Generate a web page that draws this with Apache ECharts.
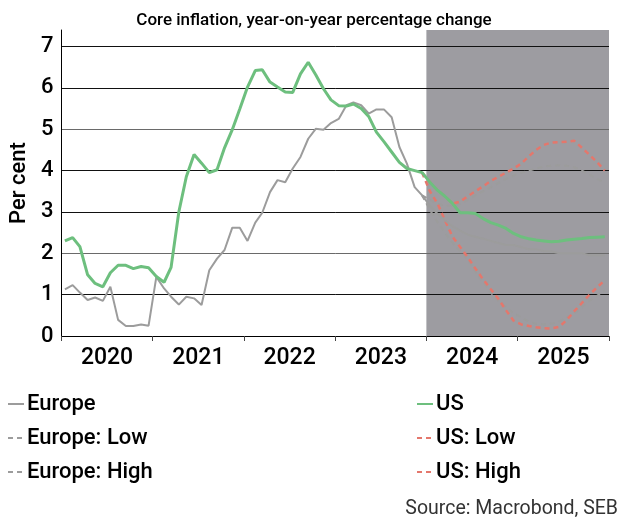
<!DOCTYPE html>
<html>
<head>
<meta charset="utf-8">
<script src="https://cdn.jsdelivr.net/npm/echarts@6/dist/echarts.min.js"></script>
<style>
  html, body { margin: 0; padding: 0; background: #fff; }
  #chart { width: 628px; height: 521px; }
</style>
</head>
<body>
<div id="chart"></div>
<script>
// Year bands on the time axis, y-axis ticks and the start of the forecast period
const years = ['2020', '2021', '2022', '2023', '2024', '2025'];
const yTicks = [0, 1, 2, 3, 4, 5, 6, 7];
const axisStart = '2020-01-01';
const forecastStart = '2024-01-01';
const axisEnd = '2026-01-01';

// Monthly observation dates, Jan 2020 - Dec 2025 (plotted mid-month)
const months = [];
years.forEach(y => {
  for (let m = 1; m <= 12; m++) months.push(y + '-' + String(m).padStart(2, '0') + '-15');
});

// Core inflation, % y/y — outcomes to Dec 2023, forecast from Jan 2024
const europe = [
  1.13, 1.23, 1.05, 0.87, 0.93, 0.85, 1.19, 0.39, 0.24, 0.24, 0.28, 0.25,
  1.43, 1.15, 0.95, 0.76, 0.95, 0.91, 0.75, 1.59, 1.87, 2.08, 2.62, 2.62,
  2.30, 2.74, 2.98, 3.48, 3.77, 3.72, 4.05, 4.33, 4.77, 5.01, 4.99, 5.15,
  5.25, 5.58, 5.65, 5.58, 5.38, 5.48, 5.48, 5.29, 4.57, 4.17, 3.60, 3.40,
  3.15, 2.95, 2.80, 2.65, 2.55, 2.45, 2.40, 2.35, 2.30, 2.25, 2.20, 2.20,
  2.15, 2.10, 2.10, 2.05, 2.05, 2.00, 2.00, 2.00, 2.00, 1.95, 1.95, 1.95
];
const us = [
  2.30, 2.38, 2.16, 1.48, 1.27, 1.19, 1.53, 1.71, 1.71, 1.63, 1.68, 1.65,
  1.44, 1.30, 1.66, 3.00, 3.85, 4.39, 4.18, 3.95, 4.02, 4.55, 4.99, 5.49,
  6.02, 6.42, 6.44, 6.14, 6.02, 5.90, 5.89, 6.34, 6.62, 6.32, 5.98, 5.71,
  5.57, 5.56, 5.61, 5.50, 5.31, 4.93, 4.70, 4.45, 4.20, 4.05, 4.00, 3.95,
  3.72, 3.52, 3.38, 3.20, 2.98, 2.98, 2.96, 2.84, 2.74, 2.68, 2.60, 2.48,
  2.40, 2.35, 2.32, 2.30, 2.28, 2.29, 2.32, 2.34, 2.36, 2.38, 2.39, 2.40
];

// Scenario bands start from the last outcome (Dec 2023)
const blank = Array(47).fill(null);
const europeLow = blank.concat([
  3.40,
  3.05, 2.75, 2.50, 2.25, 2.05, 1.85, 1.55, 1.30, 1.05, 0.85, 0.70, 0.55,
  0.45, 0.35, 0.30, 0.28, 0.30, 0.35, 0.45, 0.55, 0.70, 0.85, 0.98, 1.10
]);
const europeHigh = blank.concat([
  3.40,
  3.30, 3.20, 3.15, 3.15, 3.20, 3.30, 3.40, 3.50, 3.60, 3.70, 3.80, 3.88,
  3.95, 4.00, 4.05, 4.10, 4.12, 4.13, 4.12, 4.08, 4.00, 3.90, 3.80, 3.70
]);
const usLow = blank.concat([
  3.95,
  3.50, 3.20, 2.80, 2.40, 2.15, 1.90, 1.63, 1.37, 1.13, 0.90, 0.62, 0.37,
  0.28, 0.24, 0.21, 0.19, 0.18, 0.22, 0.38, 0.60, 0.80, 1.00, 1.18, 1.35
]);
const usHigh = blank.concat([
  3.95,
  3.72, 3.52, 3.38, 3.20, 3.25, 3.38, 3.50, 3.62, 3.75, 3.85, 3.95, 4.05,
  4.17, 4.35, 4.50, 4.62, 4.68, 4.69, 4.70, 4.72, 4.55, 4.38, 4.20, 4.00
]);

const FONT = 'Roboto, "Noto Sans", sans-serif';
const GREY = '#9c9c9c';
const GREEN = '#6dbf7e';
const RED = '#e4776c';
const SHADE = '#9d9ca1';

const pairs = arr => months.map((d, i) => [d, arr[i]]);

function lineSeries(name, arr, color, width, type, z) {
  return {
    name: name,
    type: 'line',
    xAxisIndex: 0,
    data: pairs(arr),
    symbol: 'none',
    showSymbol: false,
    connectNulls: false,
    z: z,
    lineStyle: { color: color, width: width, type: type },
    itemStyle: { color: color },
    emphasis: { disabled: true }
  };
}

// Shared legend look: a short line sample, no marker
const legendBase = {
  orient: 'vertical',
  top: 393,
  padding: 0,
  itemWidth: 16,
  itemHeight: 14,
  itemGap: 12,
  selectedMode: false,
  itemStyle: { opacity: 0 },
  textStyle: { fontFamily: FONT, fontSize: 22, fontWeight: 500, color: '#000', padding: [0, 0, 0, -2] }
};

const chart = echarts.init(document.getElementById('chart'), null, { renderer: 'canvas' });

chart.setOption({
  animation: false,
  backgroundColor: '#fff',
  textStyle: { fontFamily: FONT },
  title: [
    {
      text: 'Core inflation, year-on-year percentage change',
      left: 'center',
      top: 7,
      textStyle: { fontFamily: FONT, fontSize: 17, fontWeight: 500, color: '#000' }
    },
    {
      text: 'Source: Macrobond, SEB',
      right: 5,
      top: 494,
      textStyle: { fontFamily: FONT, fontSize: 19.5, fontWeight: 'normal', color: '#333' }
    }
  ],
  legend: [
    Object.assign({}, legendBase, { data: ['Europe', 'Europe: Low', 'Europe: High'], left: 7 }),
    Object.assign({}, legendBase, { data: ['US', 'US: Low', 'US: High'], left: 416 })
  ],
  grid: { left: 55, right: 19, top: 30, bottom: 185, containLabel: false },
  xAxis: [
    {
      type: 'time',
      min: axisStart,
      max: axisEnd,
      show: false
    },
    {
      type: 'category',
      data: years,
      position: 'bottom',
      boundaryGap: true,
      axisLine: { show: true, lineStyle: { color: '#000', width: 1 } },
      axisTick: { show: true, length: 5, lineStyle: { color: '#444' } },
      axisLabel: { fontFamily: FONT, fontSize: 23, fontWeight: 500, color: '#000', margin: 11 },
      splitLine: { show: false }
    }
  ],
  yAxis: {
    type: 'value',
    min: yTicks[0],
    max: 7.4,
    interval: 1,
    name: 'Per cent',
    nameLocation: 'middle',
    nameGap: 19,
    nameTextStyle: { fontFamily: FONT, fontSize: 22, fontWeight: 500, color: '#000' },
    axisLine: { show: true, lineStyle: { color: '#000', width: 1 } },
    axisTick: { show: false },
    axisLabel: {
      fontFamily: FONT, fontSize: 22, fontWeight: 500, color: '#000', margin: 8,
      formatter: v => (yTicks.indexOf(v) >= 0 ? String(v) : '')
    },
    splitLine: {
      show: true,
      showMaxLine: false,
      lineStyle: { color: ['#111', '#111', '#6a6a6a', '#111', '#111', '#6a6a6a', '#111', '#111', '#111'], width: 1 }
    }
  },
  series: [
    {
      name: 'forecast',
      type: 'line',
      xAxisIndex: 0,
      data: [],
      z: -1,
      markArea: {
        silent: true,
        z: -1,
        itemStyle: { color: SHADE },
        data: [[{ xAxis: forecastStart }, { xAxis: axisEnd }]]
      }
    },
    lineSeries('Europe: Low', europeLow, GREY, 2, [5, 4], 2),
    lineSeries('Europe: High', europeHigh, GREY, 2, [5, 4], 2),
    lineSeries('US: Low', usLow, RED, 2.5, [5, 4], 3),
    lineSeries('US: High', usHigh, RED, 2.5, [5, 4], 3),
    lineSeries('Europe', europe, GREY, 2, 'solid', 4),
    lineSeries('US', us, GREEN, 3, 'solid', 5)
  ]
});
</script>
</body>
</html>
